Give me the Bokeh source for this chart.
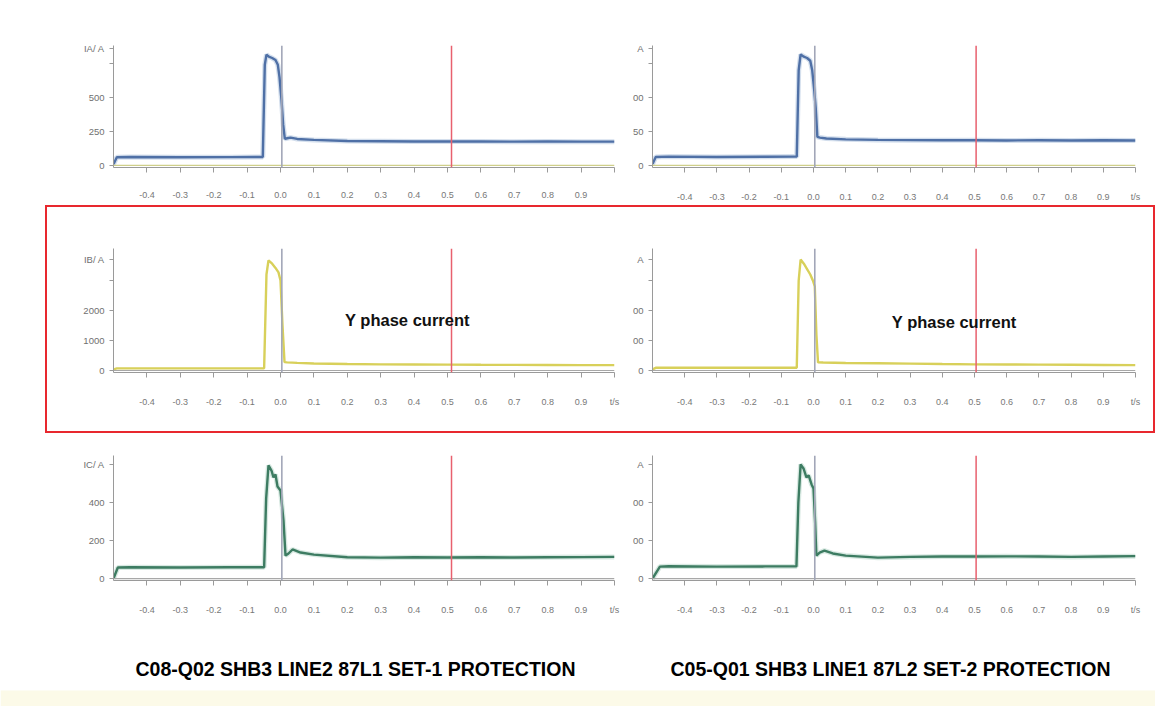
from bokeh.plotting import figure
from bokeh.models import Range1d, FixedTicker, Span, Label, Row, Column, BoxAnnotation
from bokeh.embed import file_html
from bokeh.resources import INLINE

# ---------------- data ----------------
XTICKS = [-0.4, -0.3, -0.2, -0.1, 0.0, 0.1, 0.2, 0.3, 0.4, 0.5, 0.6, 0.7, 0.8, 0.9, 1.0]
XLABELS = ["-0.4", "-0.3", "-0.2", "-0.1", "0.0", "0.1", "0.2", "0.3", "0.4", "0.5",
           "0.6", "0.7", "0.8", "0.9"]
T_UNIT = "t/s"

# Top row: phase A current
tA_L = [-0.5, -0.49, -0.45, -0.3, -0.15, -0.06, -0.053, -0.047, -0.042, -0.035, -0.025, -0.015,
        -0.008, -0.003, 0.003, 0.008, 0.013, 0.02, 0.03, 0.05, 0.1, 0.2, 0.3, 0.4, 0.5, 0.6,
        0.7, 0.8, 0.9, 1.0]
iA_L = [10, 60, 62, 60, 61, 62, 62, 740, 815, 800, 790, 775, 740, 650, 480, 300, 195, 200,
        205, 195, 188, 180, 178, 176, 177, 176, 175, 176, 175, 175]
tA_R = [-0.5, -0.49, -0.45, -0.3, -0.15, -0.06, -0.052, -0.046, -0.04, -0.03, -0.02, -0.01,
        -0.004, 0.002, 0.007, 0.012, 0.02, 0.04, 0.1, 0.2, 0.3, 0.4, 0.5, 0.6, 0.7, 0.8, 0.9, 1.0]
iA_R = [10, 62, 65, 62, 64, 65, 65, 700, 816, 800, 790, 770, 700, 560, 420, 210, 205, 198,
        192, 188, 186, 185, 185, 184, 185, 184, 185, 184]
yA_ticks = [0, 250, 500, 750, 860]
yA_labels_L = ["0", "250", "500", "", "IA/ A"]
yA_labels_R = ["0", "50", "00", "", "A"]

# Middle row: phase B current
tB_L = [-0.5, -0.49, -0.3, -0.1, -0.055, -0.049, -0.042, -0.036, -0.025, -0.015, -0.006, 0.0,
        0.006, 0.012, 0.02, 0.05, 0.1, 0.2, 0.3, 0.4, 0.5, 0.6, 0.7, 0.8, 0.9, 1.0]
iB_L = [40, 70, 70, 72, 72, 72, 3200, 3670, 3560, 3420, 3270, 3000, 1500, 280, 270, 255, 235,
        215, 205, 200, 195, 190, 188, 185, 180, 178]
tB_R = [-0.5, -0.49, -0.3, -0.1, -0.058, -0.052, -0.046, -0.04, -0.03, -0.02, -0.01, -0.002,
        0.004, 0.009, 0.014, 0.03, 0.1, 0.2, 0.3, 0.4, 0.5, 0.6, 0.7, 0.8, 0.9, 1.0]
iB_R = [40, 90, 92, 90, 92, 92, 3000, 3700, 3560, 3380, 3200, 3000, 2800, 1200, 270, 265, 250,
        240, 230, 215, 205, 200, 195, 190, 185, 180]
yB_ticks = [0, 1000, 2000, 3000, 3700]
yB_labels_L = ["0", "1000", "2000", "", "IB/ A"]
yB_labels_R = ["0", "00", "00", "", "A"]

# Bottom row: phase C current
tC_L = [-0.5, -0.487, -0.45, -0.3, -0.15, -0.055, -0.049, -0.043, -0.036, -0.027, -0.021,
        -0.015, -0.009, 0.0, 0.009, 0.015, 0.024, 0.036, 0.06, 0.1, 0.2, 0.3, 0.4, 0.5, 0.6,
        0.7, 0.8, 0.9, 1.0]
iC_L = [0, 58, 60, 58, 60, 60, 60, 420, 595, 568, 532, 547, 484, 463, 305, 121, 132, 153, 137,
        126, 112, 110, 112, 111, 112, 111, 112, 113, 114]
tC_R = [-0.5, -0.477, -0.45, -0.3, -0.15, -0.058, -0.053, -0.047, -0.04, -0.031, -0.022,
        -0.015, -0.006, 0.0, 0.005, 0.009, 0.019, 0.034, 0.06, 0.1, 0.2, 0.3, 0.4, 0.5, 0.6,
        0.7, 0.8, 0.9, 1.0]
iC_R = [0, 63, 65, 63, 64, 64, 64, 400, 600, 579, 532, 542, 495, 474, 300, 121, 137, 147, 132,
        121, 110, 114, 116, 116, 117, 116, 114, 116, 118]
yC_ticks = [0, 200, 400, 600]
yC_labels_L = ["0", "200", "400", "IC/ A"]
yC_labels_R = ["0", "00", "00", "A"]

RED_T_L = 0.512
RED_T_R = 0.505
TITLE_L = "C08-Q02 SHB3 LINE2 87L1 SET-1 PROTECTION"
TITLE_R = "C05-Q01 SHB3 LINE1 87L2 SET-2 PROTECTION"
NOTE = "Y phase current"

FONT = "Liberation Sans"
AX = "#9a9a9a"


def panel(width, height, bl, br, bt, bb, t, i, color, ylo, yhi, yticks, ylabels,
          red_at, show_unit, zero_color, halo=None):
    p = figure(width=width, height=height, x_range=Range1d(-0.5, 1.0),
               y_range=Range1d(ylo, yhi), output_backend="svg", toolbar_location=None,
               min_border_left=bl, min_border_right=br, min_border_top=bt,
               min_border_bottom=bb)
    p.grid.visible = False
    p.outline_line_color = None
    p.background_fill_color = "white"
    p.border_fill_color = "white"

    xa = p.xaxis[0]
    xa.ticker = FixedTicker(ticks=XTICKS)
    xa.major_label_overrides = dict(zip(XTICKS, XLABELS + [T_UNIT if show_unit else ""]))
    xa.axis_line_color = AX
    xa.major_tick_line_color = AX
    xa.minor_tick_line_color = None
    xa.major_tick_in = 0
    xa.major_tick_out = 5
    xa.major_label_standoff = 19
    xa.major_label_text_font_size = "9px"
    xa.major_label_text_color = "#777777"
    xa.major_label_text_font = FONT

    ya = p.yaxis[0]
    ya.ticker = FixedTicker(ticks=yticks)
    ya.major_label_overrides = dict(zip(yticks, ylabels))
    ya.axis_line_color = AX
    ya.major_tick_line_color = AX
    ya.minor_tick_line_color = None
    ya.major_tick_in = 0
    ya.major_tick_out = 4
    ya.major_label_standoff = 5
    ya.major_label_text_font_size = "9.5px"
    ya.major_label_text_color = "#707070"
    ya.major_label_text_font = FONT

    p.add_layout(Span(location=0, dimension="width", line_color=zero_color, line_width=1.2))
    p.add_layout(Span(location=0.004, dimension="height", line_color="#a2a6b8", line_width=1.6))
    p.add_layout(Span(location=red_at, dimension="height", line_color="#e8606e", line_width=1.5))

    if halo:
        p.line(t, i, line_color=halo, line_width=5, line_alpha=0.45)
    p.line(t, i, line_color=color, line_width=2.4)
    return p


# ---------------- top row ----------------
pA_L = panel(622, 205, 113, 8, 45, 38, tA_L, iA_L, "#4f70a6", -15, 882, yA_ticks, yA_labels_L,
             RED_T_L, False, "#cfcf8a", halo="#9fb8d8")
pA_R = panel(533, 205, 30, 20, 45, 38, tA_R, iA_R, "#4f70a6", -15, 882, yA_ticks, yA_labels_R,
             RED_T_R, True, "#cfcf8a", halo="#9fb8d8")
row1 = Row(children=[pA_L, pA_R])

# ---------------- middle row (boxed in red) ----------------
pB_L = panel(575, 224, 66, 8, 41, 59, tB_L, iB_L, "#d8d05a", -67, 4067, yB_ticks, yB_labels_L,
             RED_T_L, True, "#a8a8a8")
pB_R = panel(531, 224, 30, 18, 41, 59, tB_R, iB_R, "#d8d05a", -67, 4067, yB_ticks, yB_labels_R,
             RED_T_R, True, "#a8a8a8")
pB_L.add_layout(Label(x=0.38, y=1667, text=NOTE, text_align="center", text_baseline="middle",
                      text_font_size="16.5px", text_font_style="bold", text_color="#111111",
                      text_font=FONT))
pB_R.add_layout(Label(x=0.437, y=1600, text=NOTE, text_align="center", text_baseline="middle",
                      text_font_size="16.5px", text_font_style="bold", text_color="#111111",
                      text_font=FONT))
row2 = Row(children=[pB_L, pB_R], margin=(0, 0, 0, 45),
           styles={"border": "2px solid #e8282e"})

# ---------------- bottom row ----------------
pC_L = panel(622, 197, 113, 8, 22, 50, tC_L, iC_L, "#3d7c62", -10, 647, yC_ticks, yC_labels_L,
             RED_T_L, True, "#a8a8a8", halo="#a8cfbf")
pC_R = panel(533, 197, 30, 20, 22, 50, tC_R, iC_R, "#3d7c62", -10, 647, yC_ticks, yC_labels_R,
             RED_T_R, True, "#a8a8a8", halo="#a8cfbf")
row3 = Row(children=[pC_L, pC_R])

# ---------------- titles ----------------
pt = figure(width=1155, height=76, x_range=Range1d(0, 1), y_range=Range1d(0, 1),
            output_backend="svg", toolbar_location=None, min_border=0)
pt.axis.visible = False
pt.grid.visible = False
pt.outline_line_color = None
pt.add_layout(BoxAnnotation(bottom=0, top=16, bottom_units="screen", top_units="screen",
                            fill_color="#fcfae8", fill_alpha=1.0, line_color=None))
for xs, txt in ((355, TITLE_L), (890, TITLE_R)):
    pt.add_layout(Label(x=xs, y=38, x_units="screen", y_units="screen", text=txt,
                        text_align="center", text_baseline="middle", text_font_size="19.5px",
                        text_font_style="bold", text_color="#000000", text_font=FONT))

layout = Column(children=[row1, row2, row3, pt])
open("out.html", "w").write(file_html(layout, INLINE))
